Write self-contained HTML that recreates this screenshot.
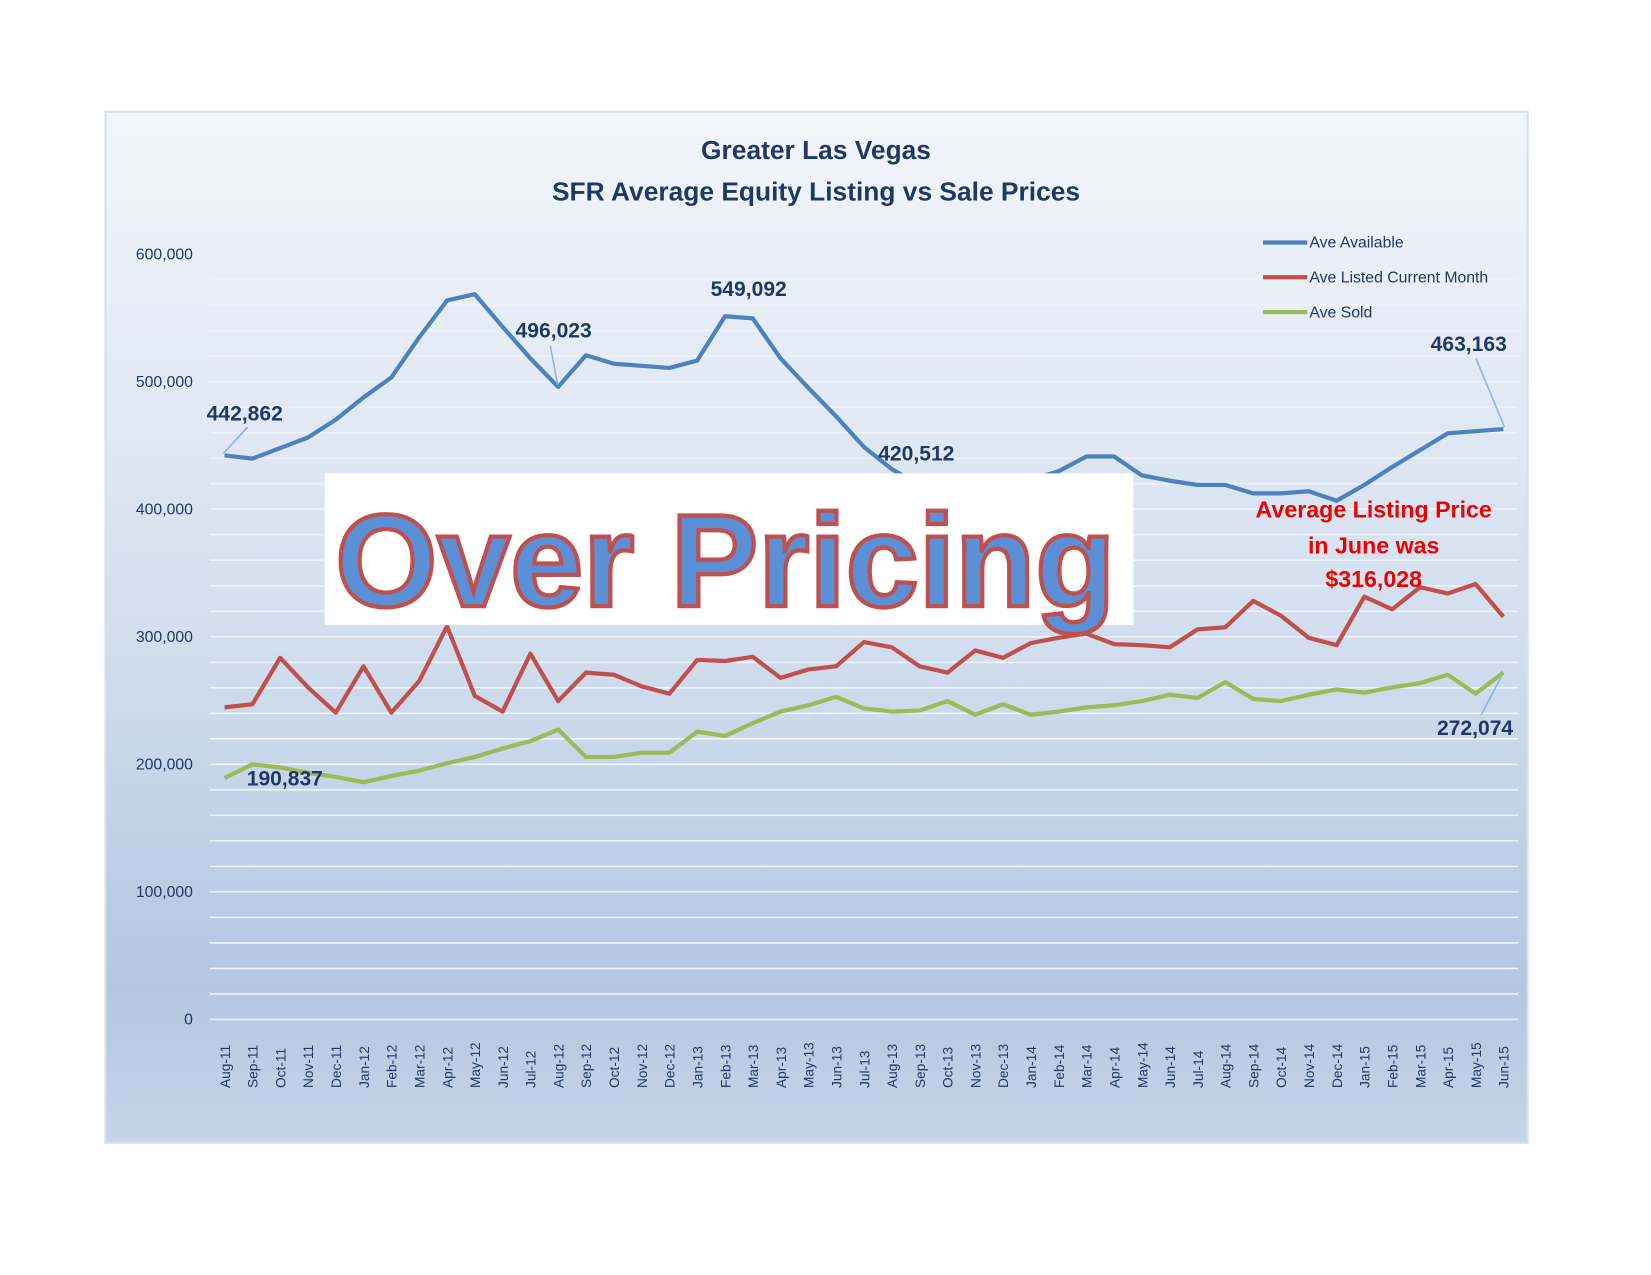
<!DOCTYPE html>
<html><head><meta charset="utf-8"><style>body{margin:0;background:#fff}svg{display:block}</style></head>
<body>
<svg width="1651" height="1275" viewBox="0 0 1566 1209.4" xmlns="http://www.w3.org/2000/svg" font-family="'Liberation Sans', sans-serif">
<defs>
<linearGradient id="bg" x1="0" y1="0" x2="0" y2="1">
<stop offset="0" stop-color="#f3f6fb"/><stop offset="0.5" stop-color="#d3dfee"/><stop offset="0.85" stop-color="#b3c7e1"/><stop offset="1" stop-color="#c6d5e9"/>
</linearGradient>
</defs>
<rect x="0" y="0" width="1566" height="1210" fill="#fff"/>
<rect x="100" y="106" width="1349" height="978" fill="url(#bg)" stroke="#d7e0ec" stroke-width="2"/>
<g stroke="#eef3f9" stroke-width="1.5">
<line x1="199" x2="1440" y1="241" y2="241"/><line x1="199" x2="1440" y1="265.2" y2="265.2"/><line x1="199" x2="1440" y1="289.4" y2="289.4"/><line x1="199" x2="1440" y1="313.6" y2="313.6"/><line x1="199" x2="1440" y1="337.8" y2="337.8"/><line x1="199" x2="1440" y1="362" y2="362"/><line x1="199" x2="1440" y1="386.2" y2="386.2"/><line x1="199" x2="1440" y1="410.4" y2="410.4"/><line x1="199" x2="1440" y1="434.6" y2="434.6"/><line x1="199" x2="1440" y1="458.8" y2="458.8"/><line x1="199" x2="1440" y1="483" y2="483"/><line x1="199" x2="1440" y1="507.2" y2="507.2"/><line x1="199" x2="1440" y1="531.4" y2="531.4"/><line x1="199" x2="1440" y1="555.6" y2="555.6"/><line x1="199" x2="1440" y1="579.8" y2="579.8"/><line x1="199" x2="1440" y1="604" y2="604"/><line x1="199" x2="1440" y1="628.2" y2="628.2"/><line x1="199" x2="1440" y1="652.4" y2="652.4"/><line x1="199" x2="1440" y1="676.6" y2="676.6"/><line x1="199" x2="1440" y1="700.8" y2="700.8"/><line x1="199" x2="1440" y1="725" y2="725"/><line x1="199" x2="1440" y1="749.2" y2="749.2"/><line x1="199" x2="1440" y1="773.4" y2="773.4"/><line x1="199" x2="1440" y1="797.6" y2="797.6"/><line x1="199" x2="1440" y1="821.8" y2="821.8"/><line x1="199" x2="1440" y1="846" y2="846"/><line x1="199" x2="1440" y1="870.2" y2="870.2"/><line x1="199" x2="1440" y1="894.4" y2="894.4"/><line x1="199" x2="1440" y1="918.6" y2="918.6"/><line x1="199" x2="1440" y1="942.8" y2="942.8"/><line x1="199" x2="1440" y1="967" y2="967"/>
</g>
<g fill="#1f3864" font-size="15" text-anchor="end">
<text x="183" y="246">600,000</text><text x="183" y="367">500,000</text><text x="183" y="488">400,000</text><text x="183" y="609">300,000</text><text x="183" y="730">200,000</text><text x="183" y="851">100,000</text><text x="183" y="972">0</text>
</g>
<text x="774" y="151" text-anchor="middle" font-size="25" font-weight="bold" fill="#1f3864">Greater Las Vegas</text>
<text x="774" y="190" text-anchor="middle" font-size="25" font-weight="bold" fill="#1f3864">SFR Average Equity Listing vs Sale Prices</text>
<g fill="#1f3864" font-size="13">
<text transform="translate(218,1032) rotate(-90)">Aug-11</text><text transform="translate(244.4,1032) rotate(-90)">Sep-11</text><text transform="translate(270.7,1032) rotate(-90)">Oct-11</text><text transform="translate(297.1,1032) rotate(-90)">Nov-11</text><text transform="translate(323.5,1032) rotate(-90)">Dec-11</text><text transform="translate(349.8,1032) rotate(-90)">Jan-12</text><text transform="translate(376.2,1032) rotate(-90)">Feb-12</text><text transform="translate(402.6,1032) rotate(-90)">Mar-12</text><text transform="translate(429,1032) rotate(-90)">Apr-12</text><text transform="translate(455.3,1032) rotate(-90)">May-12</text><text transform="translate(481.7,1032) rotate(-90)">Jun-12</text><text transform="translate(508.1,1032) rotate(-90)">Jul-12</text><text transform="translate(534.4,1032) rotate(-90)">Aug-12</text><text transform="translate(560.8,1032) rotate(-90)">Sep-12</text><text transform="translate(587.2,1032) rotate(-90)">Oct-12</text><text transform="translate(613.5,1032) rotate(-90)">Nov-12</text><text transform="translate(639.9,1032) rotate(-90)">Dec-12</text><text transform="translate(666.3,1032) rotate(-90)">Jan-13</text><text transform="translate(692.7,1032) rotate(-90)">Feb-13</text><text transform="translate(719,1032) rotate(-90)">Mar-13</text><text transform="translate(745.4,1032) rotate(-90)">Apr-13</text><text transform="translate(771.8,1032) rotate(-90)">May-13</text><text transform="translate(798.1,1032) rotate(-90)">Jun-13</text><text transform="translate(824.5,1032) rotate(-90)">Jul-13</text><text transform="translate(850.9,1032) rotate(-90)">Aug-13</text><text transform="translate(877.2,1032) rotate(-90)">Sep-13</text><text transform="translate(903.6,1032) rotate(-90)">Oct-13</text><text transform="translate(930,1032) rotate(-90)">Nov-13</text><text transform="translate(956.3,1032) rotate(-90)">Dec-13</text><text transform="translate(982.7,1032) rotate(-90)">Jan-14</text><text transform="translate(1009.1,1032) rotate(-90)">Feb-14</text><text transform="translate(1035.5,1032) rotate(-90)">Mar-14</text><text transform="translate(1061.8,1032) rotate(-90)">Apr-14</text><text transform="translate(1088.2,1032) rotate(-90)">May-14</text><text transform="translate(1114.6,1032) rotate(-90)">Jun-14</text><text transform="translate(1140.9,1032) rotate(-90)">Jul-14</text><text transform="translate(1167.3,1032) rotate(-90)">Aug-14</text><text transform="translate(1193.7,1032) rotate(-90)">Sep-14</text><text transform="translate(1220,1032) rotate(-90)">Oct-14</text><text transform="translate(1246.4,1032) rotate(-90)">Nov-14</text><text transform="translate(1272.8,1032) rotate(-90)">Dec-14</text><text transform="translate(1299.1,1032) rotate(-90)">Jan-15</text><text transform="translate(1325.5,1032) rotate(-90)">Feb-15</text><text transform="translate(1351.9,1032) rotate(-90)">Mar-15</text><text transform="translate(1378.3,1032) rotate(-90)">Apr-15</text><text transform="translate(1404.6,1032) rotate(-90)">May-15</text><text transform="translate(1431,1032) rotate(-90)">Jun-15</text>
</g>
<polyline fill="none" stroke="#4f81bd" stroke-width="4" stroke-linejoin="round" points="213,432 239.4,435 265.7,425 292.1,415 318.5,398 344.8,377 371.2,358 397.6,320 424,285 450.3,279 476.7,310 503.1,340 529.4,367 555.8,337 582.2,345 608.5,347 634.9,349 661.3,342 687.7,300 714,302 740.4,340 766.8,368 793.1,395 819.5,424 845.9,445 872.2,460 898.6,462 925,465 951.3,460 977.7,455 1004.1,447 1030.5,433 1056.8,433 1083.2,451 1109.6,456 1135.9,460 1162.3,460 1188.7,468 1215,468 1241.4,466 1267.8,475 1294.1,460 1320.5,443 1346.9,427 1373.3,411 1399.6,409 1426,407"/>
<polyline fill="none" stroke="#c0504d" stroke-width="4" stroke-linejoin="round" points="213,671 239.4,668 265.7,624 292.1,652 318.5,676 344.8,632 371.2,676 397.6,646 424,594 450.3,660 476.7,675 503.1,620 529.4,665 555.8,638 582.2,640 608.5,651 634.9,658 661.3,626 687.7,627 714,623 740.4,643 766.8,635 793.1,632 819.5,609 845.9,614 872.2,632 898.6,638 925,617 951.3,624 977.7,610 1004.1,605 1030.5,601 1056.8,611 1083.2,612 1109.6,614 1135.9,597 1162.3,595 1188.7,570 1215,584 1241.4,605 1267.8,612 1294.1,566 1320.5,578 1346.9,557 1373.3,563 1399.6,554 1426,585"/>
<polyline fill="none" stroke="#9bbb59" stroke-width="4" stroke-linejoin="round" points="213,738 239.4,725 265.7,728 292.1,733 318.5,737 344.8,742 371.2,736 397.6,731 424,724 450.3,718 476.7,710 503.1,703 529.4,692 555.8,718 582.2,718 608.5,714 634.9,714 661.3,694 687.7,698 714,686 740.4,675 766.8,669 793.1,661 819.5,672 845.9,675 872.2,674 898.6,665 925,678 951.3,668 977.7,678 1004.1,675 1030.5,671 1056.8,669 1083.2,665 1109.6,659 1135.9,662 1162.3,647 1188.7,663 1215,665 1241.4,659 1267.8,654 1294.1,657 1320.5,652 1346.9,648 1373.3,640 1399.6,658 1426,638"/>
<g stroke-width="4"><line x1="1198" y1="230" x2="1240" y2="230" stroke="#4f81bd"/><line x1="1198" y1="263" x2="1240" y2="263" stroke="#c0504d"/><line x1="1198" y1="296" x2="1240" y2="296" stroke="#9bbb59"/></g>
<g fill="#1f3864" font-size="15"><text x="1242" y="235">Ave Available</text><text x="1242" y="268">Ave Listed Current Month</text><text x="1242" y="301">Ave Sold</text></g>
<g fill="#1f3864" font-size="20" font-weight="bold">
<text x="196" y="399">442,862</text><text x="489" y="320">496,023</text><text x="674" y="281">549,092</text><text x="833" y="437">420,512</text><text x="1357" y="333">463,163</text><text x="234" y="745">190,837</text><text x="1363" y="697">272,074</text>
</g>
<g stroke="#8eb4e3" stroke-width="1.5"><line x1="212" y1="430" x2="235" y2="405"/><line x1="529" y1="365" x2="522" y2="328"/><line x1="1427" y1="405" x2="1400" y2="340"/><line x1="1425" y1="640" x2="1405" y2="678"/></g>
<rect x="308" y="449" width="767" height="144" fill="#fff"/>
<text x="688" y="575" text-anchor="middle" font-size="125" font-weight="bold" fill="#5b8fd6" stroke="#c0504d" stroke-width="4" textLength="740" lengthAdjust="spacingAndGlyphs">Over Pricing</text>
<g fill="#e00" font-size="22" font-weight="bold" text-anchor="middle"><text x="1303" y="491">Average Listing Price</text><text x="1303" y="525">in June was</text><text x="1303" y="557">$316,028</text></g>
</svg>
</body></html>
